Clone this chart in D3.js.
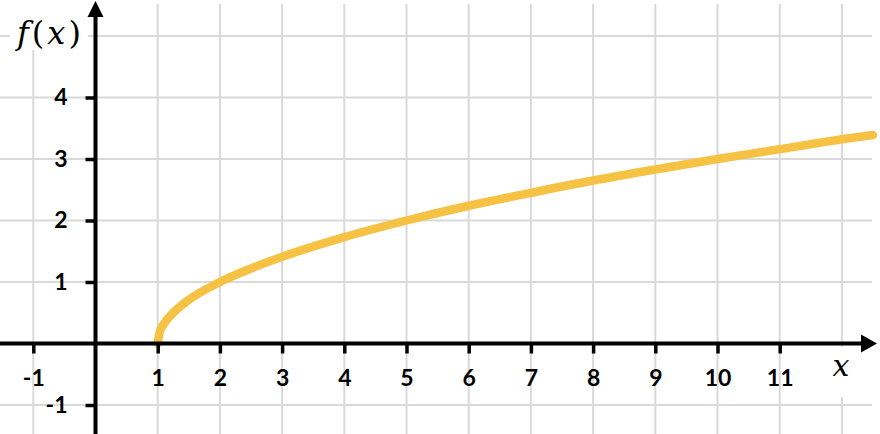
<!DOCTYPE html>
<html>
<head>
<meta charset="utf-8">
<script src="https://cdn.jsdelivr.net/npm/d3@7"></script>
<style>
  html, body { margin: 0; padding: 0; background: #fff; }
  svg { display: block; }
</style>
</head>
<body>
<svg id="chart" width="880" height="434"></svg>
<script>
// ---- data ----
const xTicks = [-1, 1, 2, 3, 4, 5, 6, 7, 8, 9, 10, 11];
const yTicks = [-1, 1, 2, 3, 4];
const xGrid = [-1, 1, 2, 3, 4, 5, 6, 7, 8, 9, 10, 11, 12];
const yGrid = [-1, 1, 2, 3, 4, 5];
const curveX = [1, 1.03, 1.1, 1.25, 1.5, 2, 2.5, 3, 4, 5, 6, 7, 8, 9, 10, 11, 12, 12.5];
const curveY = [0, 0.18, 0.32, 0.5, 0.71, 1, 1.22, 1.41, 1.73, 2, 2.24, 2.45, 2.65, 2.83, 3, 3.16, 3.32, 3.39];
const xLabel = "x";
const yLabelParts = ["f", "(", "x", ")"];

const W = 880, H = 434;
const svg = d3.select("#chart");

const x = d3.scaleLinear().domain([-1, 12]).range([33.3, 841.9]);
const y = d3.scaleLinear().domain([-1, 5]).range([405, 36]);

const gridColor = "#d9d9d9";

// grid
svg.append("g").selectAll("line.v").data(xGrid).join("line")
  .attr("x1", d => x(d)).attr("x2", d => x(d))
  .attr("y1", 4).attr("y2", H)
  .attr("stroke", gridColor).attr("stroke-width", 2);
svg.append("g").selectAll("line.h").data(yGrid).join("line")
  .attr("x1", 0).attr("x2", 872)
  .attr("y1", d => y(d)).attr("y2", d => y(d))
  .attr("stroke", gridColor).attr("stroke-width", 2);

// white boxes behind axis titles
svg.append("rect").attr("x", 10).attr("y", 0).attr("width", 78).attr("height", 50).attr("fill", "#fff");
svg.append("rect").attr("x", 824).attr("y", 347).attr("width", 36).attr("height", 50).attr("fill", "#fff");

// curve
const pts = curveX.map((v, i) => [v, curveY[i]]);
const line = d3.line().x(d => x(d[0])).y(d => y(d[1])).curve(d3.curveMonotoneX);
svg.append("path").datum(pts)
  .attr("d", line)
  .attr("fill", "none")
  .attr("stroke", "#f5c243")
  .attr("stroke-width", 8.5)
  .attr("stroke-linecap", "round")
  .attr("stroke-linejoin", "round");

// axes lines
const x0 = x(0), y0 = y(0);
svg.append("line").attr("x1", 0).attr("x2", 864).attr("y1", y0).attr("y2", y0)
  .attr("stroke", "#000").attr("stroke-width", 4);
svg.append("line").attr("x1", x0).attr("x2", x0).attr("y1", 14).attr("y2", H)
  .attr("stroke", "#000").attr("stroke-width", 4);
// arrow heads
svg.append("path").attr("d", `M${x0},1 L${x0 + 8},17 L${x0 - 8},17 Z`).attr("fill", "#000");
svg.append("path").attr("d", `M877,${y0} L861,${y0 - 9} L861,${y0 + 9} Z`).attr("fill", "#000");

const labelFont = "Lato, 'Open Sans', sans-serif";

// x axis ticks & labels via d3.axisBottom
const xAxis = d3.axisBottom(x).tickValues(xTicks).tickSize(10).tickPadding(16).tickFormat(d => String(d));
const gx = svg.append("g").attr("transform", `translate(0,${y0})`).call(xAxis);
gx.select(".domain").remove();
gx.selectAll(".tick line").attr("stroke", "#000").attr("stroke-width", 3.5);
gx.selectAll(".tick text")
  .attr("fill", "#000")
  .style("font-family", labelFont)
  .style("font-weight", "bold")
  .style("font-size", "23px");

// y axis ticks & labels via d3.axisLeft
const yAxis = d3.axisLeft(y).tickValues(yTicks).tickSize(10).tickPadding(18).tickFormat(d => String(d));
const gy = svg.append("g").attr("transform", `translate(${x0},0)`).call(yAxis);
gy.select(".domain").remove();
gy.selectAll(".tick line").attr("stroke", "#000").attr("stroke-width", 3.5);
gy.selectAll(".tick text")
  .attr("fill", "#000")
  .style("font-family", labelFont)
  .style("font-weight", "bold")
  .style("font-size", "23px");

// axis titles
const serif = "'DejaVu Serif', 'Liberation Serif', serif";
const yt = svg.append("text").attr("x", 17).attr("y", 44)
  .style("font-family", serif).style("font-size", "32px").attr("fill", "#000");
yLabelParts.forEach((p, i) => {
  yt.append("tspan").text(p)
    .style("font-style", (p === "f" || p === "x") ? "italic" : "normal")
    .attr("dx", i === 0 ? 0 : 3);
});
svg.append("text").attr("x", 841).attr("y", 376).attr("text-anchor", "middle")
  .style("font-family", serif).style("font-style", "italic").style("font-size", "30px")
  .attr("fill", "#000").text(xLabel);
</script>
</body>
</html>
